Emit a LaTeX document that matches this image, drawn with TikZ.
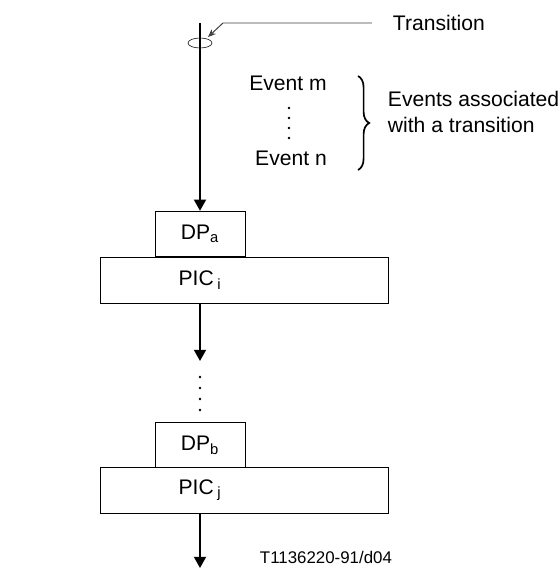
\documentclass[tikz,border=0pt]{standalone}
\usepackage{fontspec}
\setmainfont{Liberation Sans}
\usetikzlibrary{arrows.meta,decorations.pathreplacing}

\begin{document}
\begin{tikzpicture}[x=0.025cm,y=-0.025cm, font=\fontsize{15}{18}\selectfont]
%styles : boites et fleches
\tikzset{boite/.style={draw,line width=0.6pt,minimum height=1.14cm,inner sep=0pt},
         fleche/.style={line width=1.3pt,-{Triangle[length=0.28cm,width=0.3cm]}},
         renvoi/.style={gray!50!black,line width=0.7pt,-{Stealth[length=0.2cm,width=0.16cm]}}}
\useasboundingbox (0,0) rectangle (560,568);

%transition en haut
\coordinate (haut) at (200,23);
\draw[thin] (200,43) ellipse (12 and 5);
\node[anchor=west] (trans) at (388,23) {Transition};
\coordinate (coude) at (223,23);
\coordinate (cible) at (208,37);
\draw[renvoi] ([xshift=-0.4cm]trans.west) -- (coude) -- (cible);

%evenements
\node (evm) at (288,83) {Event m};
\node (evn) at (291,158) {Event n};
\foreach \y in {108,118,128,138} \fill (289,\y) circle (1.3);
\draw[line width=1.2pt,decorate,decoration={brace,amplitude=0.28cm}] (358,76) -- (358,170);
\node[anchor=west,align=left] (assoc) at (383,112) {Events associated\\with a transition};

%premier bloc
\node[boite,minimum width=2.25cm] (dpa) at (200,234) {DP\textsubscript{a}};
\node[boite,minimum width=7.2cm,anchor=north west] (pica) at (100,257) {};
\node at (pica.center -| dpa) {PIC\,\textsubscript{i}};
\draw[fleche] (haut) -- (dpa.north);

\coordinate (milieu) at (200,361);
\draw[fleche] (pica.south -| dpa) -- (milieu);
\foreach \y in {377,388,399,410} \fill (200,\y) circle (1.3);

%second bloc
\node[boite,minimum width=2.25cm] (dpb) at (200,445) {DP\textsubscript{b}};
\node[boite,minimum width=7.2cm,anchor=north west] (picb) at (100,467) {};
\node at (picb.center -| dpb) {PIC\,\textsubscript{j}};
\coordinate (bas) at (200,568);
\draw[fleche] (picb.south -| dpb) -- (bas);

\node[font=\fontsize{12}{14}\selectfont,anchor=west] (ref) at (255,557) {T1136220-91/d04};
\end{tikzpicture}
\end{document}
